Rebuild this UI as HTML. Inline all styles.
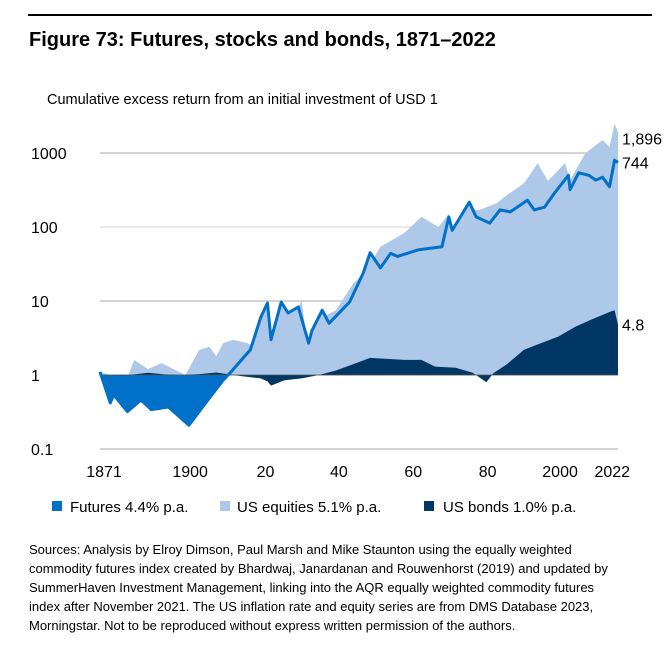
<!DOCTYPE html>
<html><head><meta charset="utf-8">
<style>
html,body{margin:0;padding:0;background:#fff;}
body{width:671px;height:653px;overflow:hidden;font-family:"Liberation Sans",Arial,sans-serif;}
svg text{font-family:"Liberation Sans",Arial,sans-serif;}
</style></head>
<body>
<svg id="chart" width="671" height="653" viewBox="0 0 671 653" xmlns="http://www.w3.org/2000/svg">
<line x1="28" y1="15" x2="652" y2="15" stroke="#000" stroke-width="2"/>
<text x="29" y="46" font-size="20" font-weight="bold" fill="#000">Figure 73: Futures, stocks and bonds, 1871–2022</text>
<text x="47" y="104" font-size="14.5" fill="#000">Cumulative excess return from an initial investment of USD 1</text>
<g id="grid"></g>
<g id="plot"></g>
<g id="yaxis"></g>
<g id="xaxis"></g>
<g id="endlabels"></g>
<g>
  <rect x="52" y="501" width="10" height="10" fill="#0070c8"/>
  <text x="70" y="512" font-size="15" fill="#000">Futures 4.4% p.a.</text>
  <rect x="220" y="501" width="10" height="10" fill="#adc8e8"/>
  <text x="237" y="512" font-size="15" fill="#000">US equities 5.1% p.a.</text>
  <rect x="424" y="501" width="10" height="10" fill="#003764"/>
  <text x="443" y="512" font-size="15" fill="#000">US bonds 1.0% p.a.</text>
</g>
<g font-size="13" fill="#000">
  <text x="29" y="554">Sources: Analysis by Elroy Dimson, Paul Marsh and Mike Staunton using the equally weighted</text>
  <text x="29" y="573">commodity futures index created by Bhardwaj, Janardanan and Rouwenhorst (2019) and updated by</text>
  <text x="29" y="592">SummerHaven Investment Management, linking into the AQR equally weighted commodity futures</text>
  <text x="29" y="611">index after November 2021. The US inflation rate and equity series are from DMS Database 2023,</text>
  <text x="29" y="630">Morningstar. Not to be reproduced without express written permission of the authors.</text>
</g>
</svg>
<script>
const futYears=[1871,1874,1875,1879,1883,1886,1891,1897,1901,1907,1909,1915,1918,1920,1921,1924,1926,1929,1932,1933,1936,1938,1944,1948,1950,1953,1956,1958,1964,1971,1973,1974,1979,1981,1985,1988,1991,1996,1998,2001,2004,2008,2008.5,2011,2014,2016,2018,2020,2021.5,2022.5];
const futValues=[1.1,0.42,0.54,0.32,0.46,0.34,0.37,0.21,0.37,0.85,1.06,2.2,6,9.4,3,9.7,6.9,8.3,2.7,4,7.5,5,9.7,24,45,28,44,40,49,54,137,90,217,137,113,170,160,230,170,185,290,500,320,540,500,430,470,350,800,744];
const eqYears=[1871,1874,1878,1881,1885,1889,1896,1900,1903,1905,1907,1910,1914,1918,1921,1923,1927,1930,1932,1936,1940,1945,1949,1953,1960,1965,1970,1973,1974,1980,1982,1987,1990,1995,1999,2002,2007,2008.5,2013,2018,2020,2021.5,2022.5];
const eqValues=[1.1,1.0,0.69,1.6,1.2,1.45,1.0,2.2,2.4,1.8,2.7,3,2.7,2.2,2.4,3.3,6,10,2,6,7.5,17,26,54,83,137,100,150,100,170,170,210,270,390,730,420,730,430,1000,1500,1200,2500,1896];
const bondYears=[1871,1878,1885,1890,1895,1900,1905,1912,1918,1920,1921,1925,1930,1935,1940,1945,1950,1960,1965,1969,1975,1980,1984,1986,1990,1995,2000,2005,2010,2015,2020,2021.5,2022.5];
const bondValues=[1.0,0.98,1.07,1.02,1.0,1.03,1.08,0.97,0.9,0.82,0.72,0.85,0.9,1.0,1.15,1.4,1.7,1.6,1.6,1.3,1.25,1.07,0.8,1.05,1.4,2.2,2.7,3.3,4.5,5.7,7.1,7.5,4.8];
const yTicks=[1000,100,10,1,0.1];
const yTickLabels=["1000","100","10","1","0.1"];
const xTicks=[1871,1900,1920,1940,1960,1980,2000,2022];
const xTickLabels=["1871","1900","20","40","60","80","2000","2022"];
const endValues=[1896,744,4.8];
const endLabels=["1,896","744","4.8"];

const NS="http://www.w3.org/2000/svg";
const X0=100,X1=618,Y1=1871,Y2=2022.5;
const labelNudge=[4,-9,-2,3,9,15,19,-4];
function xs(yr){return X0+(yr-Y1)/(Y2-Y1)*(X1-X0);}
function ys(v){return 375-74*Math.log10(v);}
function mk(tag,attrs,parent){const e=document.createElementNS(NS,tag);for(const k in attrs)e.setAttribute(k,attrs[k]);parent.appendChild(e);return e;}
const grid=document.getElementById('grid'),plot=document.getElementById('plot'),yax=document.getElementById('yaxis'),xax=document.getElementById('xaxis'),endg=document.getElementById('endlabels');
yTicks.forEach((t,i)=>{
  const l=mk('line',{x1:X0,x2:X1,y1:ys(t),y2:ys(t),stroke:t===100?'#d4d4d4':'#a8a8a8','stroke-width':1},grid);
  
  
  const tx=mk('text',{x:31,y:ys(t)+6,'font-size':16,fill:'#000'},yax);
  tx.textContent=yTickLabels[i];
  
  
});
xTicks.forEach((t,i)=>{
  const tx=mk('text',{x:xs(t)+labelNudge[i],y:477,'font-size':16,fill:'#000','text-anchor':'middle'},xax);
  tx.textContent=xTickLabels[i];
  
  
});
function pts(yrs,vals){return yrs.map((y,i)=>xs(y).toFixed(1)+','+ys(vals[i]).toFixed(1));}
function area(yrs,vals){const b=ys(1);return 'M'+xs(yrs[0])+','+b+' L'+pts(yrs,vals).join(' L')+' L'+xs(yrs[yrs.length-1])+','+b+' Z';}
const defs=mk('defs',{},plot);
const cpA=mk('clipPath',{id:'above'},defs);mk('rect',{x:0,y:0,width:671,height:ys(1)},cpA);
const cpB=mk('clipPath',{id:'below'},defs);mk('rect',{x:0,y:ys(1),width:671,height:300},cpB);
const eq=mk('path',{d:area(eqYears,eqValues),fill:'#adc8e8'},plot);


const fa=mk('path',{d:area(futYears,futValues),fill:'#adc8e8','clip-path':'url(#above)'},plot);


const fb=mk('path',{d:area(futYears,futValues),fill:'#0070c8','clip-path':'url(#below)'},plot);


const bd=mk('path',{d:area(bondYears,bondValues),fill:'#003764'},plot);


const bl=mk('line',{x1:X0,x2:X1,y1:ys(1),y2:ys(1),stroke:'#555','stroke-width':0.8},plot);


const fl=mk('polyline',{points:pts(futYears,futValues).join(' '),fill:'none',stroke:'#0070c8','stroke-width':3,'stroke-linejoin':'round'},plot);


const endNames=['equities-end-label','futures-end-label','bonds-end-label'];
endValues.forEach((v,i)=>{
  const tx=mk('text',{x:622,y:ys(v)+(i===0?12:6),'font-size':16,fill:'#000'},endg);
  tx.textContent=endLabels[i];
  
  
});
</script>
</body></html>
